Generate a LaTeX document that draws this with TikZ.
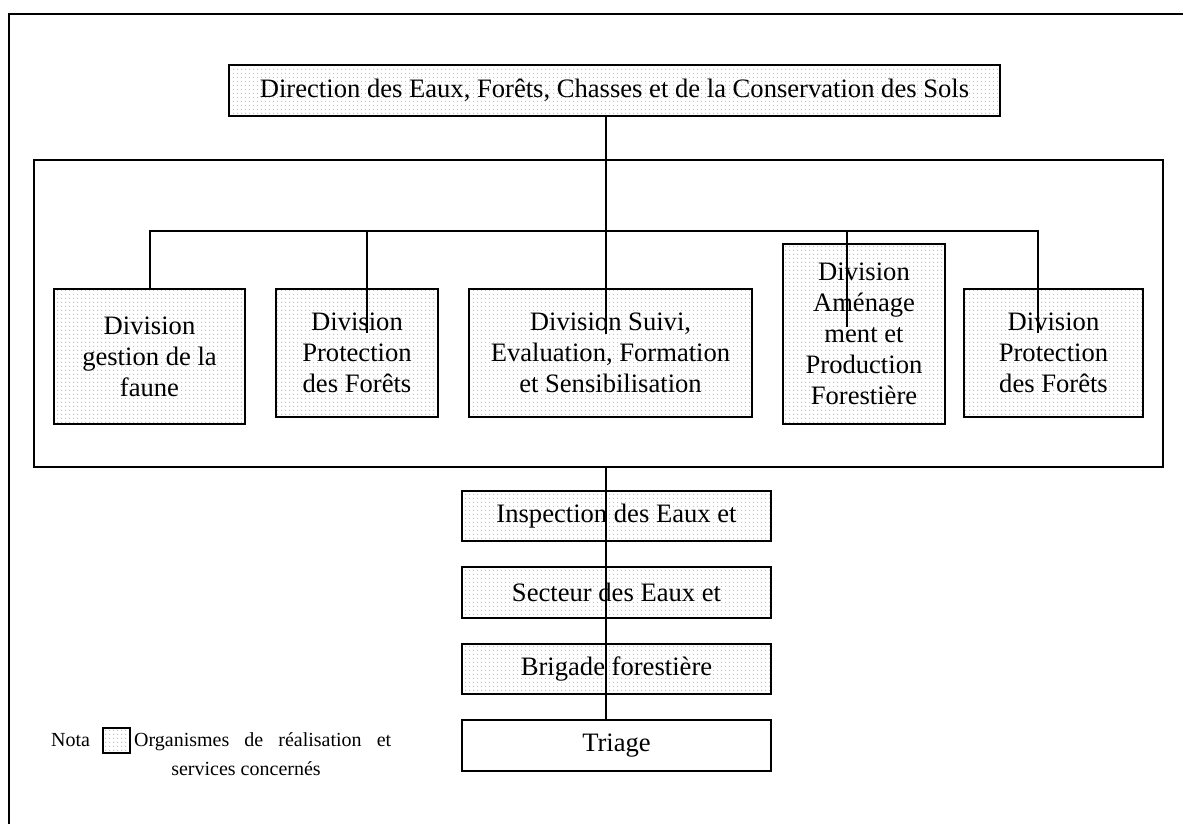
\documentclass[tikz,border=0pt]{standalone}
\usepackage{fontspec}
\setmainfont{Liberation Serif}
\usetikzlibrary{patterns.meta}
\tikzdeclarepattern{name=refdots, type=uncolored, bottom left={(0pt,0pt)}, top right={(4pt,4pt)}, tile size={(4pt,4pt)}, code={\fill (2pt,2pt) circle (0.8pt);}}
\tikzset{
  boxbase/.style={draw, line width=1.6pt, inner sep=0pt, align=center, font=\fontsize{26.6}{31}\selectfont},
  dotbox/.style={boxbase, pattern=refdots, pattern color=gray!50},
  plainbox/.style={boxbase, fill=white},
  link/.style={line width=1.4pt},
  legfont/.style={font=\fontsize{20}{24}\selectfont, inner sep=0pt}
}
\begin{document}
\begin{tikzpicture}[x=1pt, y=-1pt]
\useasboundingbox (0,0) rectangle (1183,823);
% outer frame (only top and left visible)
\draw[line width=1.8pt] (1190,14) -- (9,14) -- (9,830);
% inner frame
\node[draw, line width=1.6pt, minimum width=1129pt, minimum height=307pt, inner sep=0pt] (frame) at (598.5,313.5) {};
% top box
\node[dotbox, minimum width=771pt, minimum height=51pt] (dir) at (614.5,90.5) {Direction des Eaux, Forêts, Chasses et de la Conservation des Sols};
% divisions
\node[dotbox, minimum width=191pt, minimum height=135pt] (div1) at (149.5,356.5) {Division\\gestion de la\\faune};
\node[dotbox, minimum width=162pt, minimum height=128pt] (div2) at (357,353) {Division\\Protection\\des Forêts};
\node[dotbox, minimum width=283pt, minimum height=128pt] (div3) at (610.5,353) {Division Suivi,\\Evaluation, Formation\\et Sensibilisation};
\node[dotbox, minimum width=162pt, minimum height=180pt] (div4) at (864,334) {Division\\Aménage\\ment et\\Production\\Forestière};
\node[dotbox, minimum width=179pt, minimum height=128pt] (div5) at (1053.5,353) {Division\\Protection\\des Forêts};
% lower chain
\node[dotbox, minimum width=309pt, minimum height=50pt] (insp) at (616.5,516) {Inspection des Eaux et};
\node[dotbox, minimum width=309pt, minimum height=51pt] (sect) at (616.5,592.5) {Secteur des Eaux et};
\node[dotbox, minimum width=309pt, minimum height=50pt] (brig) at (616.5,669) {Brigade forestière};
\node[plainbox, minimum width=309pt, minimum height=51pt] (tri) at (616.5,745.5) {Triage};
% connector coordinates
\coordinate (busL) at (150,231);
\coordinate (busR) at (1038,231);
\coordinate (d2end) at (367,333);
\coordinate (d3end) at (606,334);
\coordinate (d4end) at (847,327);
\coordinate (d5end) at (1038,333);
\coordinate (spine) at (606,0);
% connectors
\draw[link] (div1.north -| busL) -- (busL) -- (busR) -- (d5end);
\draw[link] (dir.south -| spine) -- (d3end);
\draw[link] (d2end |- busL) -- (d2end);
\draw[link] (d4end |- busL) -- (d4end);
\draw[link] (frame.south -| spine) -- (tri.north -| spine);
% legend
\node[legfont, anchor=base west] (nota) at (51,746) {Nota};
\node[draw, line width=1.4pt, pattern=refdots, pattern color=gray!50, minimum width=27pt, minimum height=25pt, inner sep=0pt] (legbox) at (116.5,740.5) {};
\node[legfont, anchor=base west] (leg1) at (134,746) {\makebox[257pt][s]{Organismes de réalisation et}};
\node[legfont, anchor=base] (leg2) at (246,775) {services concernés};
\end{tikzpicture}
\end{document}
